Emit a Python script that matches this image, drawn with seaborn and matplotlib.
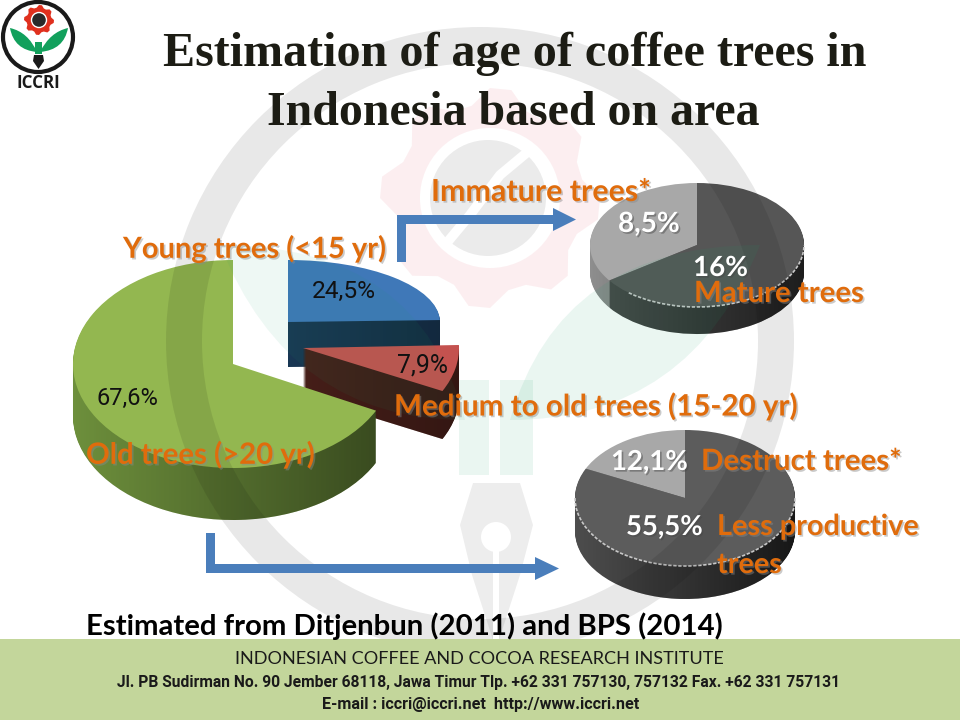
import numpy as np
import matplotlib
matplotlib.use("Agg")
import matplotlib.pyplot as plt
import matplotlib.patheffects as pe
from matplotlib.patches import Arc, Circle, PathPatch, Polygon, Rectangle, Wedge
from matplotlib.path import Path
from matplotlib.transforms import Affine2D
import seaborn as sns

# --- data ---
age_classes = ["Old trees (>20 yr)", "Young trees (<15 yr)", "Medium to old trees (15-20 yr)"]
age_values = [67.6, 24.5, 7.9]
age_labels = ["67,6%", "24,5%", "7,9%"]

young_classes = ["Immature trees*", "Mature trees"]
young_values = [8.5, 16.0]
young_labels = ["8,5%", "16%"]

old_classes = ["Destruct trees*", "Less productive"]
old_values = [12.1, 55.5]
old_labels = ["12,1%", "55,5%"]

title_lines = ["Estimation of age of coffee trees in", "Indonesia based on area"]
source_note = "Estimated from Ditjenbun (2011) and BPS (2014)"
footer_lines = ["INDONESIAN COFFEE AND COCOA RESEARCH INSTITUTE",
                "Jl. PB Sudirman No. 90 Jember 68118, Jawa Timur Tlp. +62 331 757130, 757132 Fax. +62 331 757131",
                "E-mail : iccri@iccri.net  http://www.iccri.net"]

ORANGE = "#e06c0c"
ARROW = "#4a7ebb"
NARROW = "Roboto"  # no condensed face installed, Roboto runs closest

sns.set_theme(style="white")
plt.rcParams["font.family"] = ["Lato", "DejaVu Sans"]

fig = plt.figure(figsize=(9.6, 7.2), dpi=100, facecolor="white")
ax = fig.add_axes([0, 0, 1, 1])


def Y(y):
    # slide pixels run downwards, the axes upwards
    return 720 - y


def squash(cx, cy, rx, ry):
    return Affine2D().translate(-cx, -cy).scale(1, ry / rx).translate(cx, cy)


def add_pie(values, colors, sides, cx, cy, rx, ry, depth, start, ccw, z, shade=(0.0, 0.4)):
    """Fake 3D pie: stacked squashed pies, then a shading on the wall, then the face."""
    paths = []
    for d in range(depth, 0, -1):
        cyd = Y(cy) - d
        wedges, _ = ax.pie(values, colors=sides, startangle=start, counterclock=ccw,
                           center=(cx, cyd), radius=rx, wedgeprops=dict(linewidth=0))
        tr = squash(cx, cyd, rx, ry)
        for w, c in zip(wedges, sides):
            w.set_transform(tr + ax.transData)
            w.set_zorder(z)
            if c != "none":
                paths.append(tr.transform_path(w.get_path()))
    grad = np.zeros((1, 256, 4))
    grad[..., 3] = np.linspace(shade[0], shade[1], 256)
    im = ax.imshow(grad, extent=(cx - rx, cx + rx, Y(cy) - depth - ry, Y(cy) + ry),
                   aspect="auto", zorder=z + 0.1)
    im.set_clip_path(Path.make_compound_path(*paths), transform=ax.transData)
    wedges, _ = ax.pie(values, colors=colors, startangle=start, counterclock=ccw,
                       center=(cx, Y(cy)), radius=rx, wedgeprops=dict(linewidth=0))
    tr = squash(cx, Y(cy), rx, ry)
    for w in wedges:
        w.set_transform(tr + ax.transData)
        w.set_zorder(z + 0.2)


def put_text(s, x0, x1, y, color="black", family="Lato", weight="bold", shadow=None, z=20):
    """Real text, font size fitted so it spans x0..x1 on the slide."""
    t = ax.text(x0, Y(y + 2), s, color=color, family=family, fontweight=weight, fontsize=20,
                ha="left", va="center", zorder=z)
    w = t.get_window_extent(fig.canvas.get_renderer()).width
    t.set_fontsize(20 * (x1 - x0) / w)
    if shadow:
        t.set_path_effects([pe.SimplePatchShadow(offset=(1.2, -1.2), shadow_rgbFace=shadow, alpha=0.45),
                            pe.Normal()])
    return t


def leaf(base, tip, c1, c2, color, alpha=1.0, z=1):
    verts = [(base[0], Y(base[1])), (c1[0], Y(c1[1])), (tip[0], Y(tip[1])),
             (c2[0], Y(c2[1])), (base[0], Y(base[1]))]
    codes = [Path.MOVETO, Path.CURVE3, Path.CURVE3, Path.CURVE3, Path.CURVE3]
    ax.add_patch(PathPatch(Path(verts, codes), fc=color, ec="none", alpha=alpha, zorder=z))


def gear_path(cx, cy, r_out, r_in, r_hole, teeth=8):
    ang = np.linspace(2 * np.pi, 0, teeth * 4, endpoint=False)
    rad = np.tile([r_out, r_out, r_in, r_in], teeth)
    pts = np.c_[cx + rad * np.cos(ang), Y(cy) + rad * np.sin(ang)]
    pts = np.r_[pts, pts[:1]]
    outer = Path(pts, closed=True)
    hole = Path.circle((cx, Y(cy)), r_hole)
    return Path.make_compound_path(outer, hole)


# --- the three pies ---
blue, red, green = sns.color_palette(["#3f78b8", "#c4524f", "#93b750"])
add_pie([age_values[1], 100 - age_values[1]], [blue, "none"], ["#1f4468", "none"],
        288, 322, 152, 62, 45, 90, False, 3)
add_pie([age_values[2], 100 - age_values[2]], [red, "none"], ["#57261f", "none"],
        303, 348, 156, 96, 48, 90 - age_values[1] * 3.6, False, 4)
add_pie([age_values[0], 100 - age_values[0]], [green, "none"], ["#6d8f3c", "none"],
        233, 364, 160, 104, 52, 90, True, 5, shade=(0.0, 0.5))

add_pie(young_values, ["#a8a8a8", "#565656"], ["#8e8e8e", "#4a4a4a"],
        697, 245, 107, 62, 27, 90, True, 3, shade=(0.0, 0.6))
add_pie(old_values, ["#a8a8a8", "#5c5c5c"], ["#8e8e8e", "#4d4d4d"],
        685, 498, 110, 68, 33, 90, True, 3, shade=(0.0, 0.7))

# light rim along the front of the grey pies
ax.add_patch(Arc((697, Y(245)), 214, 124, theta1=215, theta2=360, color="#c8c8c8",
                 lw=1.2, ls=(0, (2, 1)), zorder=6))
ax.add_patch(Arc((685, Y(498)), 220, 136, theta1=180, theta2=360, color="#c8c8c8",
                 lw=1.2, ls=(0, (2, 1)), zorder=6))

# --- faded logo watermark, lies over the pies but under arrows and text ---
wm = 8
ax.add_patch(Wedge((480, Y(341)), 314, 0, 360, width=36, fc="black", ec="none", alpha=0.09, zorder=wm))
ax.add_patch(PathPatch(gear_path(490, 198, 110, 94, 70), fc="#e0304a", ec="none", alpha=0.08, zorder=wm))
ax.add_patch(Circle((488, Y(198)), 58, fc="black", ec="none", alpha=0.08, zorder=wm))
ax.plot([530, 500, 470, 445], [Y(150), Y(175), Y(215), Y(245)], color="white", lw=7, zorder=wm)
leaf((510, 420), (760, 245), (560, 245), (690, 420), "#1a9e6a", 0.09, wm)
leaf((465, 420), (220, 245), (420, 245), (290, 420), "#1a9e6a", 0.07, wm)
ax.add_patch(Rectangle((459, Y(475)), 30, 95, fc="#1a9e6a", ec="none", alpha=0.09, zorder=wm))
ax.add_patch(Rectangle((500, Y(475)), 33, 95, fc="#1a9e6a", ec="none", alpha=0.09, zorder=wm))
nib = [(473, 483), (520, 483), (533, 525), (520, 575), (499, 640), (493, 640), (472, 575), (460, 525)]
ax.add_patch(Polygon([(x, Y(y)) for x, y in nib], fc="black", ec="none", alpha=0.07, zorder=wm))
ax.add_patch(Circle((496, Y(537)), 15, fc="white", ec="none", zorder=wm))
ax.add_patch(Rectangle((493, Y(640)), 6, 90, fc="white", ec="none", zorder=wm))

# --- arrows ---
ax.add_patch(Rectangle((397, Y(262)), 9, 47, fc=ARROW, ec="none", zorder=10))
ax.add_patch(Rectangle((397, Y(224)), 157, 9, fc=ARROW, ec="none", zorder=10))
ax.add_patch(Polygon([(553, Y(208)), (576, Y(219.5)), (553, Y(231))], fc=ARROW, ec="none", zorder=10))
ax.add_patch(Rectangle((206, Y(573)), 9, 40, fc=ARROW, ec="none", zorder=10))
ax.add_patch(Rectangle((206, Y(573)), 330, 9, fc=ARROW, ec="none", zorder=10))
ax.add_patch(Polygon([(535, Y(557)), (559, Y(568.5)), (535, Y(580))], fc=ARROW, ec="none", zorder=10))

# --- footer band ---
ax.add_patch(Rectangle((0, 0), 960, Y(639), fc="#c3d69b", ec="none", zorder=15))

ax.set_xlim(0, 960)
ax.set_ylim(0, 720)
ax.set_aspect("auto")
ax.set_frame_on(False)
ax.set_xticks([])
ax.set_yticks([])
fig.canvas.draw()

# --- logo top left ---
ax.add_patch(Circle((38, Y(37)), 35, fc="white", ec="#1a1a1a", lw=3, zorder=12))
ax.add_patch(PathPatch(gear_path(39, 20, 15, 12.5, 0.01), fc="#e0301e", ec="none", zorder=13))
ax.add_patch(Circle((39, Y(20)), 7.5, fc="#2a2a2a", ec="white", lw=1, zorder=14))
leaf((37, 52), (10, 28), (14, 50), (28, 32), "#12a05c", z=13)
leaf((40, 52), (68, 28), (64, 50), (50, 32), "#12a05c", z=13)
ax.add_patch(Rectangle((35, Y(54)), 7, 12, fc="#12a05c", ec="none", zorder=13))
ax.add_patch(Polygon([(34, Y(55)), (43, Y(55)), (44, Y(61)), (38.5, Y(69)), (33, Y(61))],
                     fc="#1a1a1a", ec="none", zorder=13))
put_text("ICCRI", 17, 61, 81, color="#1a1a1a", family="Open Sans")

# --- text ---
put_text(title_lines[0], 163, 865, 52, color="#1c1c14", family="Liberation Serif")
put_text(title_lines[1], 267, 759, 111, color="#1c1c14", family="Liberation Serif")

put_text(young_classes[0], 431, 651, 190, color=ORANGE, shadow="#8a8a8a")
put_text(age_classes[1], 123, 386, 247, color=ORANGE, shadow="#8a8a8a")
put_text(young_classes[1], 694, 864, 292, color=ORANGE, shadow="#8a8a8a")
put_text(age_classes[2], 394, 798, 404, color=ORANGE, shadow="#8a8a8a")
put_text(age_classes[0], 86, 315, 453, color=ORANGE, shadow="#8a8a8a")
put_text(old_classes[0], 701, 902, 460, color=ORANGE, shadow="#8a8a8a")
put_text(old_classes[1], 717, 919, 525, color=ORANGE, shadow="#8a8a8a")
put_text("trees", 717, 782, 563, color=ORANGE, shadow="#8a8a8a")

put_text(age_labels[0], 96, 158, 396, color="#111111", family=NARROW, weight="normal")
put_text(age_labels[1], 312, 376, 289, color="#111111", family=NARROW, weight="normal")
put_text(age_labels[2], 397, 448, 363, color="#111111", family=NARROW, weight="normal")
put_text(young_labels[0], 618, 680, 222, color="white", shadow="#444444")
put_text(young_labels[1], 693, 748, 266, color="white", shadow="#444444")
put_text(old_labels[0], 611, 688, 460, color="white", shadow="#444444")
put_text(old_labels[1], 626, 703, 525, color="white", shadow="#444444")

put_text(source_note, 86, 724, 624, color="black")
put_text(footer_lines[0], 235, 726, 657, color="#1a1a1a", weight="normal")
put_text(footer_lines[1], 117, 842, 680, color="#1a1a1a", family=NARROW)
put_text(footer_lines[2], 322, 638, 702, color="#1a1a1a", family=NARROW)

fig.savefig("out.png", dpi=100)
